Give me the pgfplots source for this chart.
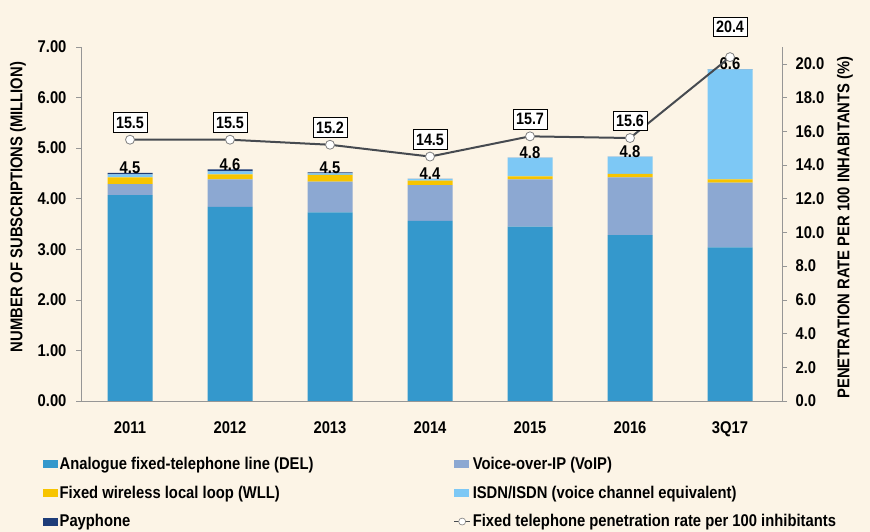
\documentclass[border=0pt]{standalone}
\usepackage{fontspec}
\setmainfont{Liberation Sans}[FakeStretch=0.87]
\usepackage{pgfplots}
\usepackage{pgfplotstable}
\pgfplotsset{compat=1.18}
\definecolor{bgc}{RGB}{252,244,230}
\definecolor{delc}{RGB}{52,152,204}
\definecolor{voipc}{RGB}{140,168,210}
\definecolor{wllc}{RGB}{247,196,0}
\definecolor{isdnc}{RGB}{125,200,245}
\definecolor{payc}{RGB}{30,60,120}
\definecolor{linec}{RGB}{70,74,80}
\definecolor{axc}{RGB}{150,150,150}

\pgfplotstableread{
x del voip wll isdn pay tot
0 4.07 0.22 0.13 0.06 0.03 4.5
1 3.84 0.54 0.10 0.06 0.04 4.6
2 3.73 0.61 0.13 0.03 0.02 4.5
3 3.56 0.71 0.09 0.03 0.001 4.4
4 3.45 0.93 0.06 0.37 0.001 4.8
5 3.28 1.14 0.07 0.34 0.001 4.8
6 3.04 1.28 0.06 2.18 0.001 6.6
}\bars

\pgfplotstableread{
x r
0 15.5
1 15.5
2 15.2
3 14.5
4 15.7
5 15.6
6 20.4
}\rate

\pgfplotsset{
  /pgf/number format/assume math mode=true,
  mylegbar/.style={legend image code/.code={\fill[##1] (0pt,-4pt) rectangle (15pt,4pt);}},
  boxlab/.style={only marks, mark=none, point meta=explicit,
   nodes near coords={\pgfmathprintnumber[fixed,fixed zerofill,precision=1]{\pgfplotspointmeta}},
   every node near coord/.append style={anchor=south, yshift=#1, draw=black, fill=white,
      line width=0.8pt, inner xsep=3pt, inner ysep=4pt, text=black,
      font=\fontsize{16.5}{19}\selectfont\bfseries}},
}

\begin{document}
\begin{tikzpicture}[font=\fontsize{17}{19}\selectfont\bfseries]
\fill[bgc] (0pt,0pt) rectangle (870pt,532pt);
\useasboundingbox (0pt,0pt) rectangle (870pt,532pt);

\begin{axis}[
  at={(81pt,131pt)}, anchor=south west,
  width=701pt, height=354pt, scale only axis,
  xmin=-0.49, xmax=6.52, ymin=0, ymax=7,
  ybar stacked, bar width=45pt,
  axis x line*=bottom, axis y line*=left,
  axis line style={draw=axc, line width=0.9pt, -},
  xtick={0,...,6},
  xticklabels={2011,2012,2013,2014,2015,2016,3Q17},
  x tick style={draw=none},
  y tick style={draw=axc, line width=0.7pt},
  tick align=outside, major tick length=5pt,
  ytick={0,1,...,7},
  yticklabel={\pgfmathprintnumber[fixed,fixed zerofill,precision=2]{\tick}},
  yticklabel style={xshift=-6pt},
  xticklabel style={yshift=-12pt},
  ylabel={NUMBER OF SUBSCRIPTIONS (MILLION)},
  ylabel style={at={(rel axis cs:-0.09,0.548)}, anchor=center, rotate=0},
  legend columns=2,
  legend cell align=left,
  legend style={at={(rel axis cs:-0.055,-0.152)}, anchor=north west, draw=none, fill=none,
     inner sep=0pt, row sep=11pt,
     /tikz/every even column/.append style={column sep=138pt},
     nodes={inner sep=2pt, font=\fontsize{17}{19}\selectfont\bfseries}},
  mylegbar,
  clip=false,
]
\addplot[fill=delc, draw=none] table[x=x,y=del]{\bars};
\addlegendentry{Analogue fixed-telephone line (DEL)}
\addplot[fill=voipc, draw=none] table[x=x,y=voip]{\bars};
\addlegendentry{Voice-over-IP (VoIP)}
\addplot[fill=wllc, draw=none] table[x=x,y=wll]{\bars};
\addlegendentry{Fixed wireless local loop (WLL)}
\addplot[fill=isdnc, draw=none] table[x=x,y=isdn]{\bars};
\addlegendentry{ISDN/ISDN (voice channel equivalent)}
\addplot[fill=payc, draw=none, point meta=explicit,
   nodes near coords={\pgfmathprintnumber[fixed,fixed zerofill,precision=1]{\pgfplotspointmeta}},
   every node near coord/.append style={anchor=south, yshift=-4pt, text=black, font=\fontsize{17}{19}\selectfont\bfseries}]
   table[x=x,y=pay,meta=tot]{\bars};
\addlegendentry{Payphone}
\addlegendimage{legend image code/.code={\draw[linec, line width=1.2pt] (0pt,0pt) -- (16pt,0pt); \draw[gray, fill=white, line width=0.6pt] (8pt,0pt) circle (3.5pt);}}
\addlegendentry{Fixed telephone penetration rate per 100 inhibitants}
\end{axis}

\begin{axis}[
  at={(81pt,131pt)}, anchor=south west,
  width=701pt, height=354pt, scale only axis,
  xmin=-0.49, xmax=6.52, ymin=0, ymax=21,
  axis x line=none, axis y line*=right,
  axis line style={draw=axc, line width=0.9pt, -},
  y tick style={draw=axc, line width=0.7pt},
  tick align=outside, major tick length=5pt,
  ytick={0,2,...,20},
  yticklabel={\pgfmathprintnumber[fixed,fixed zerofill,precision=1]{\tick}},
  yticklabel style={xshift=5pt},
  ylabel={PENETRATION RATE PER 100 INHABITANTS (\%)},
  ylabel style={at={(rel axis cs:1.09,0.49)}, anchor=center, rotate=0},
  clip=false,
]
\addplot[linec, line width=2pt, mark=*, mark size=4.5pt,
   mark options={fill=white, draw=gray, line width=0.8pt}]
   table[x=x,y=r]{\rate};
\addplot[boxlab=7pt] table[x=x,y=r,meta=r]{
x r
0 15.5
1 15.5
2 15.2
3 14.5
4 15.7
5 15.6
};
\addplot[boxlab=20pt] table[x=x,y=r,meta=r]{
x r
6 20.4
};
\end{axis}
\end{tikzpicture}
\end{document}
